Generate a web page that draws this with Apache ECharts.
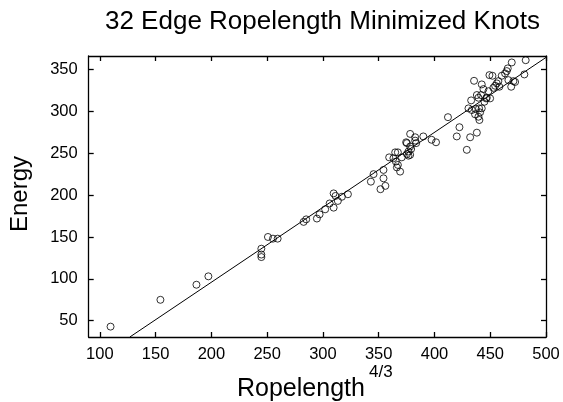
<!DOCTYPE html>
<html>
<head>
<meta charset="utf-8">
<script src="https://cdn.jsdelivr.net/npm/echarts@6/dist/echarts.min.js"></script>
<style>
html,body{margin:0;padding:0;background:#fff;}
#chart{width:563px;height:402px;}
</style>
</head>
<body>
<div id="chart"></div>
<script>
// Data
var ropelength = [
  109.6,154.3,186.6,197.3,244.8,244.8,244.8,250.7,255.2,259.4,
  282.7,285.0,294.6,297.0,302.0,306.0,309.6,311.3,309.6,313.4,
  317.0,322.4,343.0,345.4,351.6,356.0,354.3,354.3,359.4,363.2,
  364.8,367.2,365.4,367.2,366.3,369.2,370.7,374.6,375.3,376.7,
  376.7,378.2,378.2,378.2,379.1,375.3,382.7,382.7,383.6,390.0,
  397.4,401.4,412.1,420.0,422.4,429.0,432.0,438.0,430.5,432.9,
  433.5,437.1,440.0,436.4,440.9,439.4,440.3,435.5,438.0,439.4,
  441.8,442.4,443.9,444.8,446.9,448.4,449.9,449.3,452.0,452.8,
  454.4,455.9,457.3,460.3,463.3,464.8,465.7,466.3,468.8,469.3,
  470.8,472.3,480.6,481.8,458.2,442.4,446.3
];
var energy = [
  43,75,93,103,136,129,126,150,148,148,
  168,171,172,177,183,190,202,199,185,193,
  198,201,216,225,207,211,220,230,245,244,
  251,251,240,236,233,228,245,263,249,252,
  247,273,258,248,255,262,269,265,262,270,
  266,263,293,270,281,254,269,274.5,303.5,313,
  301.5,302.7,303.5,296.4,298.7,293.5,289.6,336.4,319.4,316.2,
  319.4,332.1,326.5,311.4,316.2,324,315.4,343.2,342.4,328,
  330.5,333.3,336,342.4,345.2,348,351.2,337.2,329.3,358.3,
  336,335,344,361,329.3,303.5,315.4
];
// Fitted line end points
var fitX = [126.9, 500];
var fitY = [30.6, 364.3];
var xTicks = [100,150,200,250,300,350,400,450,500];
var yTicks = [50,100,150,200,250,300,350];

var pts = ropelength.map(function(x,i){return [x, energy[i]];});
var fit = fitX.map(function(x,i){return [x, fitY[i]];});

var FONT = '"Liberation Sans", Arial, Helvetica, sans-serif';
var chart = echarts.init(document.getElementById('chart'), null, {renderer:'canvas'});

function xAx(pos, showLabel){
  return {
    type:'value', position:pos, min:90, max:500,
    axisLine:{show:true, onZero:false, lineStyle:{color:'#000', width:1.3}},
    axisTick:{show:true, inside:true, length:5, customValues:xTicks, lineStyle:{color:'#000', width:1.3}},
    axisLabel:{show:showLabel, customValues:xTicks, margin:9, color:'#000', fontSize:16.5, fontFamily:FONT},
    splitLine:{show:false}
  };
}
function yAx(pos, showLabel){
  return {
    type:'value', position:pos, min:30.6, max:366,
    axisLine:{show:true, onZero:false, lineStyle:{color:'#000', width:1.3}},
    axisTick:{show:true, inside:true, length:5, customValues:yTicks, lineStyle:{color:'#000', width:1.3}},
    axisLabel:{show:showLabel, customValues:yTicks, margin:11, color:'#000', fontSize:16.5, fontFamily:FONT},
    splitLine:{show:false}
  };
}

chart.setOption({
  animation:false,
  backgroundColor:'#fff',
  grid:{left:88.7, right:17, top:56, bottom:65, containLabel:false, outerBoundsMode:'none'},
  xAxis:[xAx('bottom', true), xAx('top', false)],
  yAxis:[yAx('left', true), yAx('right', false)],
  graphic:[
    {type:'text', x:322.5, y:9, style:{text:'32 Edge Ropelength Minimized Knots', font:'26px '+FONT, fill:'#000', textAlign:'center', textVerticalAlign:'top'}},
    {type:'text', x:20, y:194, rotation:Math.PI/2, style:{text:'Energy', font:'24px '+FONT, fill:'#000', textAlign:'center', textVerticalAlign:'middle'}},
    {type:'text', x:237, y:389, style:{text:'Ropelength', font:'25px '+FONT, fill:'#000', textAlign:'left', textVerticalAlign:'middle'}},
    {type:'text', x:369, y:372, style:{text:'4/3', font:'17px '+FONT, fill:'#000', textAlign:'left', textVerticalAlign:'middle'}}
  ],
  series:[
    {type:'line', data:fit, showSymbol:false, symbol:'none', clip:true,
     lineStyle:{color:'#000', width:1}, silent:true},
    {type:'scatter', data:pts, symbol:'circle', symbolSize:7,
     itemStyle:{color:'rgba(255,255,255,0)', borderColor:'#000', borderWidth:1}}
  ]
});
</script>
</body>
</html>
